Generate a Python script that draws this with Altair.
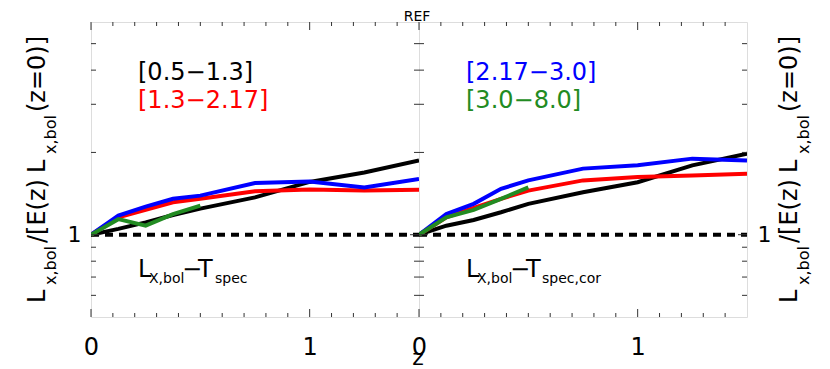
import altair as alt
import pandas as pd

# ---------------- data ----------------
z_full = [0, 0.125, 0.25, 0.375, 0.5, 0.75, 1.0, 1.25, 1.5]
z_short = [0, 0.125, 0.25, 0.375, 0.5]

left_black = [1.0, 1.05, 1.11, 1.18, 1.246, 1.37, 1.56, 1.69, 1.87]
left_red = [1.0, 1.158, 1.233, 1.314, 1.353, 1.443, 1.463, 1.45, 1.46]
left_blue = [1.0, 1.175, 1.267, 1.353, 1.39, 1.545, 1.566, 1.49, 1.60]
left_green = [1.0, 1.14, 1.079, 1.19, 1.278]

right_black = [1.0, 1.079, 1.132, 1.208, 1.297, 1.43, 1.556, 1.794, 1.98]
right_red = [1.0, 1.158, 1.253, 1.353, 1.45, 1.58, 1.625, 1.648, 1.671]
right_blue = [1.0, 1.19, 1.297, 1.472, 1.58, 1.745, 1.794, 1.898, 1.87]
right_green = [1.0, 1.158, 1.232, 1.353, 1.49]

series_names = ["[0.5\u22121.3]", "[1.3\u22122.17]", "[2.17\u22123.0]", "[3.0\u22128.0]"]
series_colors = ["#000000", "#FF0000", "#0000FF", "#228B22"]

ref_z = [0, 1.5]
ref_v = [1, 1]

x_major = [0, 1.0]
x_minor = [0.1, 0.2, 0.3, 0.4, 0.5, 0.6, 0.7, 0.8, 0.9, 1.1, 1.2, 1.3, 1.4]
y_major = [1]
y_minor = [0.6, 0.7, 0.8, 0.9, 2, 3, 4, 5]
x_label_values = [0, 1]
y_label_values = [1]

# ---------------- style ----------------
W, H = 328, 295
FONT = "DejaVu Sans"
FRAME = "#333333"
BIG, SUB = 24, 16
ASUB = 14

xs = alt.Scale(domain=[0, 1.5], nice=False, zero=False)
ys = alt.Scale(type="log", domain=[0.5, 6], nice=False)

AX = alt.Axis(values=x_label_values, ticks=False, tickSize=0, domain=False, grid=False,
              labelFontSize=24, labelFont=FONT, labelPadding=18, labelColor="black",
              labelFlush=False, labelOverlap=False, format="d", title=None)


def ay(orient):
    return alt.Axis(values=y_label_values, orient=orient, ticks=False, tickSize=0, domain=False,
                    grid=False, labelFontSize=22, labelFont=FONT, labelPadding=10,
                    labelColor="black", format="d", title=None)


def line(z, v, color, axy, width=4, dash=None):
    df = pd.DataFrame({"z": z, "v": v})
    kw = dict(color=color, strokeWidth=width, clip=True)
    if dash:
        kw["strokeDash"] = dash
    return alt.Chart(df).mark_line(**kw).encode(
        x=alt.X("z:Q", scale=xs, axis=AX),
        y=alt.Y("v:Q", scale=ys, axis=axy),
    )


def tick_layers(axy):
    out = []
    for vals, ln in ((x_major, 8), (x_minor, 4)):
        df = pd.DataFrame({"z": vals})
        base = alt.Chart(df).mark_rule(color=FRAME, strokeWidth=1)
        out.append(base.encode(x=alt.X("z:Q", scale=xs, axis=AX), y=alt.value(0), y2=alt.value(ln)))
        out.append(base.encode(x=alt.X("z:Q", scale=xs, axis=AX), y=alt.value(H), y2=alt.value(H - ln)))
    for vals, ln in ((y_major, 9), (y_minor, 5)):
        df = pd.DataFrame({"v": vals})
        base = alt.Chart(df).mark_rule(color=FRAME, strokeWidth=1)
        out.append(base.encode(y=alt.Y("v:Q", scale=ys, axis=axy), x=alt.value(0), x2=alt.value(ln)))
        out.append(base.encode(y=alt.Y("v:Q", scale=ys, axis=axy), x=alt.value(W), x2=alt.value(W - ln)))
    return out


def txt(t, x, y, size=BIG, color="black", angle=0, align="left"):
    kw = dict(align=align, baseline="alphabetic", font=FONT, fontSize=size, color=color)
    if angle:
        kw["angle"] = angle
    return alt.Chart(pd.DataFrame({"t": [t]})).mark_text(**kw).encode(
        text="t:N", x=alt.value(x), y=alt.value(y))


def ytitle(xbig, xsub):
    pieces = [("L", BIG, 281), ("x,bol", SUB, 263), ("/[E(z)", BIG, 221),
              ("L", BIG, 151), ("x,bol", SUB, 132), ("(z=0)]", BIG, 90)]
    return [txt(t, xbig if s == BIG else xsub, y, size=s, angle=270) for t, s, y in pieces]


def annot(sub2, xs_):
    return [
        txt("L", xs_[0], 255, BIG),
        txt("X,bol", xs_[1], 261, ASUB),
        txt("\u2212", xs_[2], 255, BIG),
        txt("T", xs_[3], 255, BIG),
        txt(sub2, xs_[4], 261, ASUB),
    ]


ayl = ay("left")
ayr = ay("right")

left_layers = [
    line(ref_z, ref_v, "black", ayl, width=4, dash=[8, 6]),
    line(z_full, left_black, series_colors[0], ayl),
    line(z_full, left_red, series_colors[1], ayl),
    line(z_full, left_blue, series_colors[2], ayl),
    line(z_short, left_green, series_colors[3], ayl),
] + tick_layers(ayl) + [
    txt(series_names[0], 47, 58, BIG, series_colors[0]),
    txt(series_names[1], 47, 86, BIG, series_colors[1]),
    txt("REF", 326, -1, 14, "black", align="center"),
] + annot("spec", [47, 58, 91, 107, 124]) + ytitle(-46, -35)

right_layers = [
    line(ref_z, ref_v, "black", ayr, width=4, dash=[8, 6]),
    line(z_full, right_black, series_colors[0], ayr),
    line(z_full, right_red, series_colors[1], ayr),
    line(z_full, right_blue, series_colors[2], ayr),
    line(z_short, right_green, series_colors[3], ayr),
] + tick_layers(ayr) + [
    txt(series_names[2], 47, 58, BIG, series_colors[2]),
    txt(series_names[3], 47, 86, BIG, series_colors[3]),
    txt("z", -1, 343, 22, "black", align="center"),
] + annot("spec,cor", [47, 58, 91, 107, 123]) + ytitle(378, 390)

left = alt.layer(*left_layers).properties(width=W, height=H)
right = alt.layer(*right_layers).properties(width=W, height=H)

chart = alt.hconcat(left, right, spacing=0, bounds="flush").properties(
    autosize=alt.AutoSizeParams(type="none"),
    padding={"left": 83, "top": 14, "right": 731, "bottom": 339},
).configure_view(stroke=FRAME, strokeWidth=1).configure(background="white")

chart.save("out.html", embed_options={"renderer": "svg", "actions": False})
